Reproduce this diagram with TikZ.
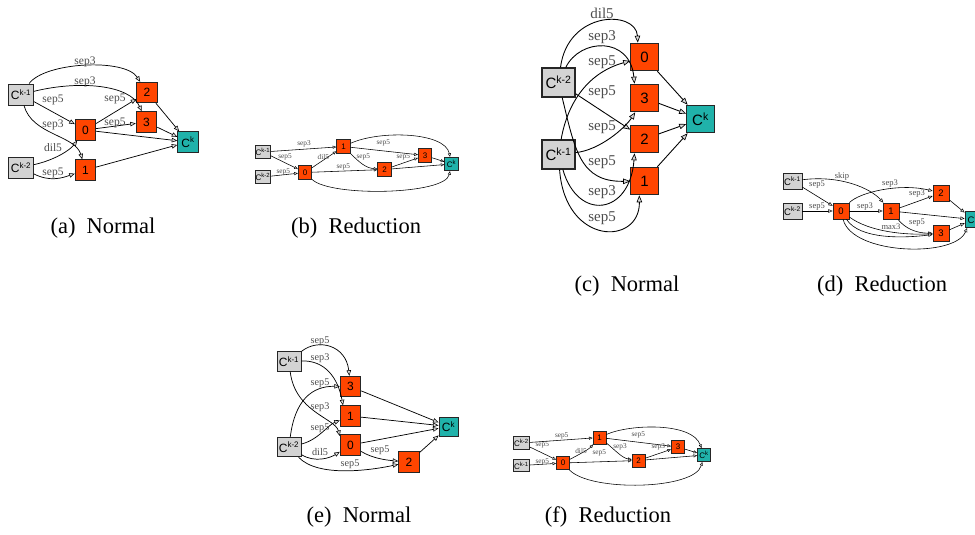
\documentclass[tikz,border=0pt]{standalone}
\usepackage{fontspec}
\setmainfont{Liberation Serif}
\setsansfont{Liberation Sans}
\usetikzlibrary{arrows.meta}
\definecolor{gnc}{HTML}{D3D3D3}
\definecolor{onc}{HTML}{FF4500}
\definecolor{tnc}{HTML}{20B2AA}
\newcommand{\Csup}[1]{C\textsuperscript{#1}}
\tikzset{
  gn/.style={fill=gnc},
  on/.style={fill=onc},
  tn/.style={fill=tnc},
  captxt/.style={font=\fontsize{22.5}{24}\selectfont, inner sep=0pt},
  mkstyles/.style n args={6}{
    nd/.style={draw=black!85, line width=#1, inner sep=0pt, minimum width=#2, minimum height=#2,
      font=\sffamily\fontsize{#3}{#3}\selectfont},
    lb/.style={font=\fontsize{#4}{#4}\selectfont, text=black!70, inner sep=0pt},
    ar/.style={draw=black, line width=#1*0.8, -{Triangle[length=#5, width=#6, fill=gray!30, line width=#1*0.6]}}
  }
}
\begin{document}
\begin{tikzpicture}[x=1pt,y=-1pt]
\useasboundingbox (0,0) rectangle (975,535);
\clip (0,0) rectangle (975,535);

% ---------------- (a) ----------------
\begin{scope}[mkstyles={0.9pt}{20.5pt}{12}{11.5}{5.5pt}{4.5pt}]
\node[nd,gn,minimum width=25pt,minimum height=21pt] (ak1) at (21,94.5) {\Csup{k-1}};
\node[nd,gn,minimum width=25pt,minimum height=21pt] (ak2) at (21,167.5) {\Csup{k-2}};
\node[nd,on] (a0) at (85.5,130) {0};
\node[nd,on] (a1) at (85.5,170) {1};
\node[nd,on] (a2) at (147,92.5) {2};
\node[nd,on] (a3) at (146.5,122) {3};
\node[nd,tn] (ack) at (188,142) {\Csup{k}};
\draw[ar] (ak1) .. controls (45,62) and (125,58) .. (a2);
\draw[ar] (ak1) .. controls (80,80) and (130,85) .. (a3);
\draw[ar] (ak1) -- (a0);
\draw[ar] (ak1) .. controls (32,135) and (75,135) .. (a1);
\draw[ar] (ak2) .. controls (55,160) and (70,150) .. (a0);
\draw[ar] (ak2) .. controls (50,182) and (62,178) .. (a1);
\draw[ar] (a0) -- (a2);
\draw[ar] (a0) -- (a3);
\draw[ar] (a0) -- (ack);
\draw[ar] (a1) -- (ack);
\draw[ar] (a2) -- (ack);
\draw[ar] (a3) -- (ack);
\node[lb] (la1) at (85,62) {sep3};
\node[lb] (la2) at (85,82) {sep3};
\node[lb] (la3) at (53,100) {sep5};
\node[lb] (la4) at (115,99) {sep5};
\node[lb] (la5) at (53,125) {sep3};
\node[lb] (la6) at (115,123) {sep5};
\node[lb] (la7) at (53,148) {dil5};
\node[lb] (la8) at (53,173) {sep5};
\node[captxt] (capa) at (103,228) {(a)\hskip0.5em Normal};
\end{scope}

% ---------------- (b) ----------------
\begin{scope}[mkstyles={0.7pt}{13.5pt}{8}{7.3}{3.6pt}{3pt}]
\node[nd,gn,minimum width=15.5pt,minimum height=12.5pt] (bk1) at (263,152) {\Csup{k-1}};
\node[nd,gn,minimum width=15.5pt,minimum height=12.5pt] (bk2) at (263,177) {\Csup{k-2}};
\node[nd,on] (b0) at (305,172.5) {0};
\node[nd,on] (b1) at (343.5,146.5) {1};
\node[nd,on] (b2) at (384.5,169.5) {2};
\node[nd,on] (b3) at (425,155.5) {3};
\node[nd,tn] (bck) at (451.5,164) {\Csup{k}};
\draw[ar] (bk1) -- (b1);
\draw[ar] (bk1) -- (b0);
\draw[ar] (bk2) -- (b0);
\draw[ar] (b0) -- (b1);
\draw[ar] (b0) -- (b2);
\draw[ar] (b0) .. controls (330,197) and (445,195) .. (bck);
\draw[ar] (b1) -- (b3);
\draw[ar] (b1) .. controls (360,163) and (366,168) .. (b2);
\draw[ar] (b1) .. controls (380,130) and (445,132) .. (bck);
\draw[ar] (b2) -- (b3);
\draw[ar] (b2) -- (bck);
\draw[ar] (b3) -- (bck);
\node[lb] (lb1) at (304,144) {sep3};
\node[lb] (lb2) at (285,156.7) {sep5};
\node[lb] (lb3) at (283.3,171.7) {sep5};
\node[lb] (lb4) at (323.3,156.7) {dil5};
\node[lb] (lb5) at (343.3,166.7) {sep5};
\node[lb] (lb6) at (383.3,143.3) {sep5};
\node[lb] (lb7) at (363.3,156.7) {sep5};
\node[lb] (lb8) at (403.3,157.3) {sep5};
\node[captxt] (capb) at (356,228) {(b)\hskip0.5em Reduction};
\end{scope}

% ---------------- (c) ----------------
\begin{scope}[mkstyles={1.1pt}{27.5pt}{15}{15}{7pt}{5.5pt}]
\node[nd,gn,minimum width=33pt,minimum height=29pt] (ck2) at (558.5,82.5) {\Csup{k-2}};
\node[nd,gn,minimum width=33pt,minimum height=29pt] (ck1) at (558.5,154.5) {\Csup{k-1}};
\node[nd,on] (c0) at (644.5,57) {0};
\node[nd,on] (c3) at (644.5,98) {3};
\node[nd,on] (c2) at (644.5,139) {2};
\node[nd,on] (c1) at (644.5,181) {1};
\node[nd,tn] (cck) at (700.5,119) {\Csup{k}};
\draw[ar] (ck2) .. controls (568,10) and (636,10) .. (c0.115);
\draw[ar] (ck2) .. controls (580,38) and (630,36) .. (c3.125);
\draw[ar] (ck1) .. controls (568,100) and (590,72) .. (c0);
\draw[ar] (ck2) -- (c2);
\draw[ar] (ck1) .. controls (600,150) and (625,128) .. (c3);
\draw[ar] (ck2) .. controls (575,150) and (580,182) .. (c1);
\draw[ar] (ck1) .. controls (578,222) and (630,215) .. (c2.235);
\draw[ar] (ck1) .. controls (565,246) and (640,246) .. (c1.250);
\draw[ar] (c0) -- (cck);
\draw[ar] (c3) -- (cck);
\draw[ar] (c2) -- (cck);
\draw[ar] (c1) -- (cck);
\node[lb] (lc1) at (602,13) {dil5};
\node[lb] (lc2) at (602,37) {sep3};
\node[lb] (lc3) at (602,62) {sep5};
\node[lb] (lc4) at (602,92) {sep5};
\node[lb] (lc5) at (602,127) {sep5};
\node[lb] (lc6) at (602,162) {sep5};
\node[lb] (lc7) at (602,192) {sep3};
\node[lb] (lc8) at (602,218) {sep5};
\node[captxt] (capc) at (627,286) {(c)\hskip0.5em Normal};
\end{scope}

% ---------------- (d) ----------------
\begin{scope}[mkstyles={0.75pt}{16pt}{9.5}{8.5}{4.2pt}{3.5pt}]
\node[nd,gn,minimum width=19pt,minimum height=16pt] (dk1) at (792.5,181) {\Csup{k-1}};
\node[nd,gn,minimum width=19pt,minimum height=16pt] (dk2) at (792.5,211) {\Csup{k-2}};
\node[nd,on] (d0) at (841,211) {0};
\node[nd,on] (d1) at (891,211) {1};
\node[nd,on] (d2) at (941,193) {2};
\node[nd,on] (d3) at (941,233.5) {3};
\node[nd,tn] (dck) at (973,219.5) {\Csup{k}};
\draw[ar] (dk1) -- (d0);
\draw[ar] (dk1) .. controls (840,175) and (870,188) .. (d1);
\draw[ar] (dk2) -- (d0);
\draw[ar] (d0) -- (d1);
\draw[ar] (d0) .. controls (860,192) and (900,183) .. (d2);
\draw[ar] (d1) -- (d2);
\draw[ar] (d1) .. controls (905,228) and (915,233) .. (d3);
\draw[ar] (d0) .. controls (870,232) and (905,235) .. (d3);
\draw[ar] (d0) .. controls (860,240) and (905,238) .. (d3);
\draw[ar] (d0) .. controls (852,255) and (955,258) .. (dck.235);
\draw[ar] (d1) -- (dck);
\draw[ar] (d2) -- (dck);
\draw[ar] (d3) -- (dck);
\node[lb] (ld1) at (842,176) {skip};
\node[lb] (ld2) at (817,185) {sep5};
\node[lb] (ld3) at (817,207) {sep5};
\node[lb] (ld4) at (865,207) {sep3};
\node[lb] (ld5) at (890,184) {sep3};
\node[lb] (ld6) at (917,194) {sep3};
\node[lb] (ld7) at (917,223) {sep5};
\node[lb] (ld8) at (891,227) {max3};
\node[captxt] (capd) at (882,286) {(d)\hskip0.5em Reduction};
\end{scope}

% ---------------- (e) ----------------
\begin{scope}[mkstyles={0.9pt}{20.5pt}{12}{10.2}{5.5pt}{4.5pt}]
\node[nd,gn,minimum width=24pt,minimum height=19.5pt] (ek1) at (289,361.5) {\Csup{k-1}};
\node[nd,gn,minimum width=24pt,minimum height=19.5pt] (ek2) at (289,447) {\Csup{k-2}};
\node[nd,on] (e3) at (350.5,386.5) {3};
\node[nd,on] (e1) at (350.5,416) {1};
\node[nd,on] (e0) at (350.5,445) {0};
\node[nd,on] (e2) at (409,462) {2};
\node[nd,tn,minimum width=19pt,minimum height=19pt] (eck) at (448.5,426.5) {\Csup{k}};
\draw[ar] (ek1) .. controls (318,338) and (346,345) .. (e3);
\draw[ar] (ek1) .. controls (325,360) and (338,378) .. (e1.125);
\draw[ar] (ek2) .. controls (295,400) and (312,386) .. (e3);
\draw[ar] (ek1) .. controls (295,412) and (335,418) .. (e0.140);
\draw[ar] (ek2) .. controls (318,440) and (328,425) .. (e1);
\draw[ar] (ek2) .. controls (315,463) and (330,458) .. (e0);
\draw[ar] (ek2) .. controls (318,478) and (372,470) .. (e2);
\draw[ar] (e0) .. controls (372,458) and (385,460) .. (e2);
\draw[ar] (e3) -- (eck);
\draw[ar] (e1) -- (eck);
\draw[ar] (e0) -- (eck);
\draw[ar] (e2) -- (eck);
\node[lb] (le1) at (320,341) {sep5};
\node[lb] (le2) at (320,358) {sep3};
\node[lb] (le3) at (320,383) {sep5};
\node[lb] (le4) at (320,407) {sep3};
\node[lb] (le5) at (320,428) {sep5};
\node[lb] (le6) at (320,452) {dil5};
\node[lb] (le7) at (350,464) {sep5};
\node[lb] (le8) at (380,450) {sep5};
\node[captxt] (cape) at (359,517) {(e)\hskip0.5em Normal};
\end{scope}

% ---------------- (f) ----------------
\begin{scope}[mkstyles={0.7pt}{13pt}{8}{7.3}{3.6pt}{3pt}]
\node[nd,gn,minimum width=16pt,minimum height=12.5pt] (fk2) at (521.5,443) {\Csup{k-2}};
\node[nd,gn,minimum width=16pt,minimum height=12.5pt] (fk1) at (521.5,465.5) {\Csup{k-1}};
\node[nd,on] (f0) at (563,463) {0};
\node[nd,on] (f1) at (599.5,437.5) {1};
\node[nd,on] (f2) at (638.5,460.5) {2};
\node[nd,on] (f3) at (678,447) {3};
\node[nd,tn] (fck) at (704,455) {\Csup{k}};
\draw[ar] (fk2) -- (f1);
\draw[ar] (fk2) -- (f0);
\draw[ar] (fk1) -- (f0);
\draw[ar] (f0) .. controls (578,455) and (588,450) .. (f1);
\draw[ar] (f0) -- (f2);
\draw[ar] (f1) -- (f3);
\draw[ar] (f1) .. controls (615,450) and (622,458) .. (f2);
\draw[ar] (f2) -- (f3);
\draw[ar] (f1) .. controls (630,424) and (692,422) .. (fck);
\draw[ar] (f0) .. controls (590,492) and (695,490) .. (fck);
\draw[ar] (f2) -- (fck);
\draw[ar] (f3) -- (fck);
\node[lb] (lf1) at (561.7,435.7) {sep5};
\node[lb] (lf2) at (542.3,445) {sep5};
\node[lb] (lf3) at (542.3,462.3) {sep5};
\node[lb] (lf4) at (581,450.7) {dil5};
\node[lb] (lf5) at (599.3,452.7) {sep5};
\node[lb] (lf6) at (638.3,435) {sep5};
\node[lb] (lf7) at (620,447.3) {sep3};
\node[lb] (lf8) at (658.3,447.3) {sep3};
\node[captxt] (capf) at (608,517) {(f)\hskip0.5em Reduction};
\end{scope}
\end{tikzpicture}
\end{document}
